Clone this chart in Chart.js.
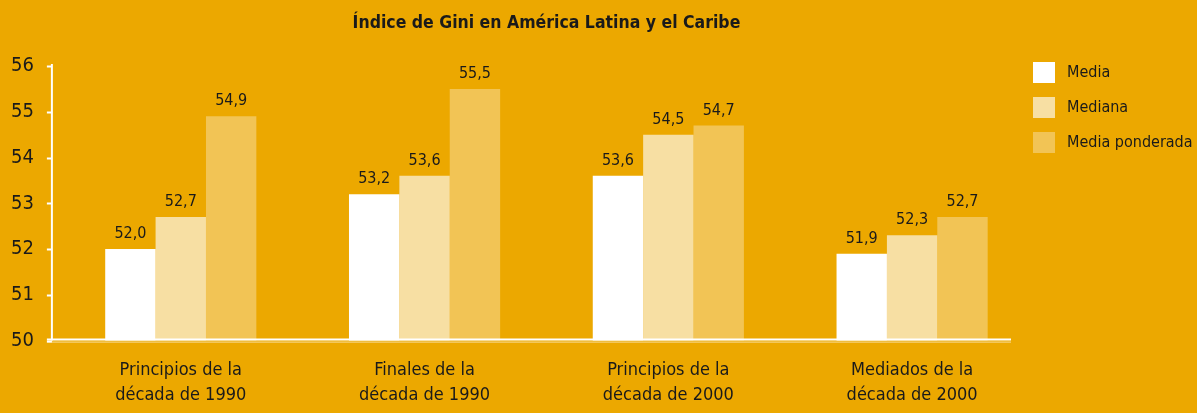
<!DOCTYPE html>
<html>
<head>
<meta charset="utf-8">
<script src="https://cdn.jsdelivr.net/npm/chart.js@4.4.1/dist/chart.umd.min.js"></script>
<style>
  html, body { margin: 0; padding: 0; background: #eca800; }
  #wrap { width: 1197px; height: 413px; position: relative; }
</style>
</head>
<body>
<div id="wrap"><canvas id="chart"></canvas></div>
<script>
  const categories = [
    ["Principios de la", "década de 1990"],
    ["Finales de la", "década de 1990"],
    ["Principios de la", "década de 2000"],
    ["Mediados de la", "década de 2000"],
  ];
  const media          = [52.0, 53.2, 53.6, 51.9];
  const mediana        = [52.7, 53.6, 54.5, 52.3];
  const mediaPonderada = [54.9, 55.5, 54.7, 52.7];
  const seriesNames    = ["Media", "Mediana", "Media ponderada"];
  const yTicks         = [50, 51, 52, 53, 54, 55, 56];

  const FONT = "'Liberation Sans Narrow', 'DejaVu Sans Condensed', 'Open Sans', sans-serif";
  const ink = "#1a1a1a";
  const colors = ["#ffffff", "#f7dfa3", "#f2c455"];

  const fmt = (v) => v.toFixed(1).replace(".", ",");

  // axes, value labels and legend drawn by hand to follow the original layout
  const decor = {
    id: "decor",
    afterDatasetsDraw(chart) {
      const { ctx, chartArea, scales } = chart;
      const y = scales.y;
      const axisX = chartArea.left - 7;
      ctx.save();

      // value labels
      ctx.font = `16px ${FONT}`;
      ctx.fillStyle = ink;
      ctx.textAlign = "center";
      ctx.textBaseline = "bottom";
      chart.data.datasets.forEach((ds, i) => {
        chart.getDatasetMeta(i).data.forEach((bar, j) => {
          ctx.fillText(fmt(ds.data[j]), bar.x, bar.y - 7);
        });
      });

      // y axis
      ctx.strokeStyle = "#ffffff";
      ctx.lineWidth = 2;
      ctx.beginPath();
      ctx.moveTo(axisX, y.getPixelForValue(56) - 2);
      ctx.lineTo(axisX, chartArea.bottom);
      ctx.stroke();
      yTicks.forEach((t) => {
        const py = Math.round(y.getPixelForValue(t)) + 0.5;
        ctx.beginPath();
        ctx.moveTo(axisX - 5, py);
        ctx.lineTo(axisX, py);
        ctx.stroke();
      });

      // x axis (double line)
      ctx.lineWidth = 2;
      ctx.beginPath();
      ctx.moveTo(axisX - 5, chartArea.bottom - 1);
      ctx.lineTo(chartArea.right - 23, chartArea.bottom - 1);
      ctx.stroke();
      ctx.strokeStyle = "rgba(255,255,255,0.6)";
      ctx.lineWidth = 1;
      ctx.beginPath();
      ctx.moveTo(axisX - 5, chartArea.bottom + 1.5);
      ctx.lineTo(chartArea.right - 23, chartArea.bottom + 1.5);
      ctx.stroke();

      // legend
      ctx.font = `16px ${FONT}`;
      ctx.textAlign = "left";
      ctx.textBaseline = "middle";
      seriesNames.forEach((name, i) => {
        const top = 62 + i * 35;
        ctx.fillStyle = colors[i];
        ctx.fillRect(1033, top, 22, 21);
        ctx.fillStyle = ink;
        ctx.fillText(name, 1067, top + 11);
      });
      ctx.restore();
    },
  };

  new Chart(document.getElementById("chart"), {
    type: "bar",
    data: {
      labels: categories,
      datasets: [
        { label: seriesNames[0], data: media,          backgroundColor: colors[0] },
        { label: seriesNames[1], data: mediana,        backgroundColor: colors[1] },
        { label: seriesNames[2], data: mediaPonderada, backgroundColor: colors[2] },
      ],
    },
    options: {
      responsive: true,
      maintainAspectRatio: false,
      animation: false,
      layout: { padding: { left: 11, right: 163, top: 0, bottom: 0 } },
      datasets: { bar: { categoryPercentage: 0.62, barPercentage: 1.0 } },
      plugins: {
        legend: { display: false },
        tooltip: { enabled: false },
        title: {
          display: true,
          fullSize: false,
          text: "Índice de Gini en América Latina y el Caribe",
          color: ink,
          font: { family: FONT, size: 17.5, weight: "bold" },
          padding: { top: 13, bottom: 32 },
        },
      },
      scales: {
        x: {
          afterFit: (axis) => { axis.height -= 12; },
          grid: { display: false, drawTicks: false },
          border: { display: false },
          ticks: {
            color: ink,
            font: { family: FONT, size: 18, lineHeight: 1.4 },
            padding: 17,
            maxRotation: 0,
          },
        },
        y: {
          min: 50,
          max: 56,
          afterBuildTicks: (axis) => { axis.ticks = yTicks.map((v) => ({ value: v })); },
          grid: { display: false, drawTicks: false },
          border: { display: false },
          ticks: {
            color: ink,
            font: { family: FONT, size: 20 },
            padding: 12.5,
            crossAlign: "far",
          },
        },
      },
    },
    plugins: [decor],
  });
</script>
</body>
</html>
